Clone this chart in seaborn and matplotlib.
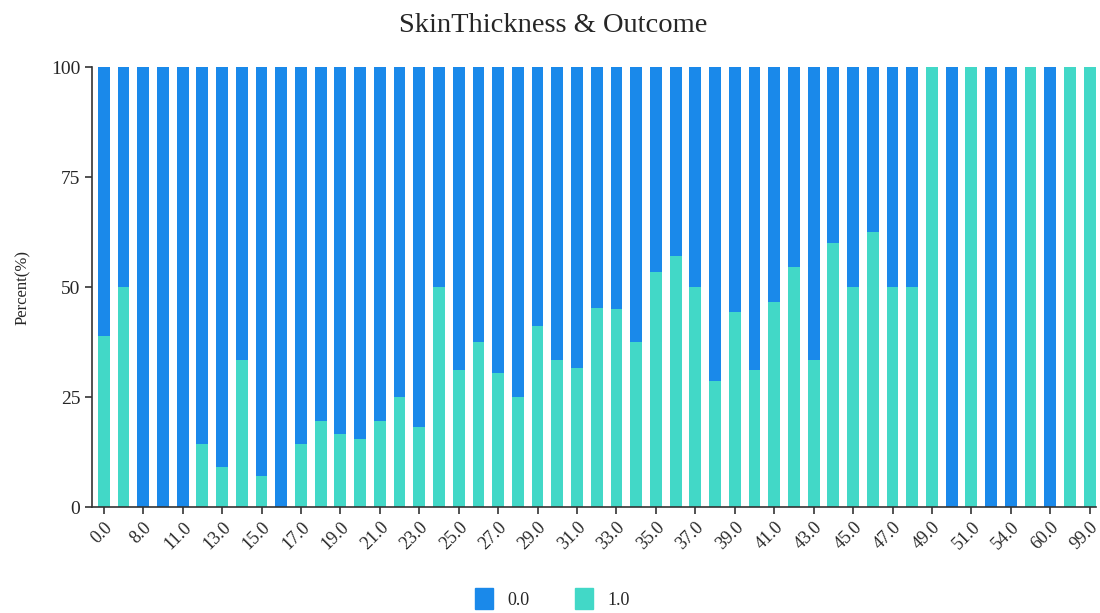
import matplotlib
matplotlib.use("Agg")
import matplotlib.pyplot as plt
from matplotlib.patches import Patch
import seaborn as sns
import pandas as pd

# valores de SkinThickness (categorias) e % de Outcome = 1
skin_values = [0, 7, 8, 10, 11, 12, 13, 14, 15, 16, 17, 18, 19, 20, 21, 22, 23, 24,
               25, 26, 27, 28, 29, 30, 31, 32, 33, 34, 35, 36, 37, 38, 39, 40, 41,
               42, 43, 44, 45, 46, 47, 48, 49, 50, 51, 52, 54, 56, 60, 63, 99]
pct_outcome1 = [38.8, 50.0, 0, 0, 0, 14.3, 9.1, 33.3, 7.1, 0, 14.3, 19.5, 16.7, 15.4,
                19.5, 25.0, 18.2, 50.0, 31.2, 37.5, 30.4, 25.0, 41.2, 33.3, 31.6, 45.2,
                45.0, 37.5, 53.3, 57.1, 50.0, 28.6, 44.4, 31.2, 46.7, 54.5, 33.3, 60.0,
                50.0, 62.5, 50.0, 50.0, 100, 0, 100, 0, 0, 100, 0, 100, 100]
pct_outcome0 = [100 - v for v in pct_outcome1]
legend_labels = ["0.0", "1.0"]

cor_0 = "#1a89ea"
cor_1 = "#42d8c7"

df = pd.DataFrame({
    "skin": [f"{v:.1f}" for v in skin_values],
    "p0": pct_outcome0,
    "p1": pct_outcome1,
})
df["total"] = df["p0"] + df["p1"]

sns.set_style("white")
plt.rcParams["font.family"] = ["Liberation Serif", "DejaVu Serif"]

fig = plt.figure(figsize=(11, 6.13), dpi=100)
ax = fig.add_axes([0.0836, 0.1729, 0.9124, 0.7178])

# barras empilhadas: total (azul) por baixo e Outcome=1 (verde) por cima
sns.barplot(data=df, x="skin", y="total", color=cor_0, width=0.6,
            saturation=1, ax=ax, order=df["skin"], linewidth=0)
sns.barplot(data=df, x="skin", y="p1", color=cor_1, width=0.6,
            saturation=1, ax=ax, order=df["skin"], linewidth=0)

ax.set_xlim(-0.6, len(skin_values) - 0.7)
ax.set_ylim(0, 100)
ax.set_yticks([0, 25, 50, 75, 100])
ax.set_yticklabels(["0", "25", "50", "75", "100"], fontsize=14)

idx = list(range(0, len(skin_values), 2))
ax.set_xticks(idx)
ax.set_xticklabels([df["skin"][i] for i in idx], rotation=45, ha="right",
                   rotation_mode="anchor", fontsize=13)

ax.set_xlabel("")
ax.set_ylabel("Percent(%)", fontsize=12, labelpad=14)
fig.suptitle("SkinThickness & Outcome", fontsize=20.5, x=0.503, y=0.978)

for s in ["top", "right"]:
    ax.spines[s].set_visible(False)
for s in ["left", "bottom"]:
    ax.spines[s].set_color("#333333")
    ax.spines[s].set_linewidth(1.2)
ax.tick_params(axis="both", direction="out", length=5, width=1.2,
               color="#333333", left=True, bottom=True)
ax.grid(False)

handles = [Patch(color=cor_0), Patch(color=cor_1)]
fig.legend(handles, legend_labels, loc="lower center", bbox_to_anchor=(0.502, -0.02),
           ncol=2, frameon=False, fontsize=13, handlelength=1.0, handleheight=1.4,
           columnspacing=2.5, handletextpad=0.8)

fig.savefig("out.png", dpi=100)
